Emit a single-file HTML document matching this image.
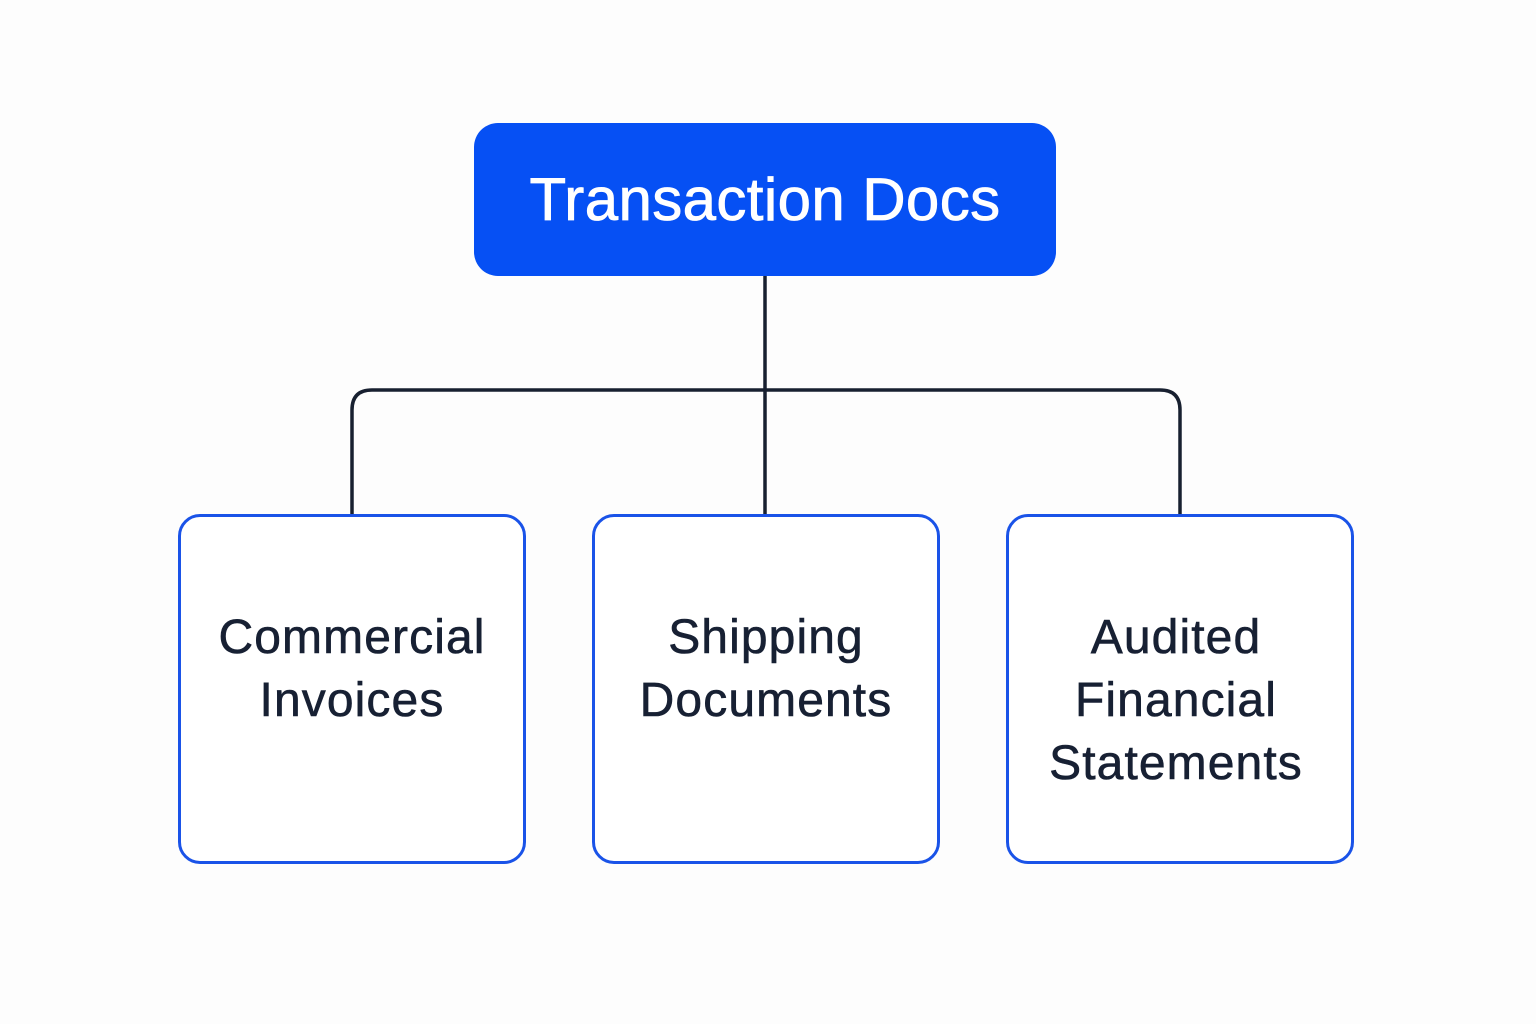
<!DOCTYPE html>
<html><head><style>
html,body{margin:0;padding:0;background:#fdfdfd;}
body{width:1536px;height:1024px;position:relative;overflow:hidden;font-family:"Liberation Sans",sans-serif;}
.top{position:absolute;left:474px;top:123px;width:582px;height:153px;background:#0650f4;border-radius:24px;color:#fff;font-size:60px;letter-spacing:0.4px;display:flex;align-items:center;justify-content:center;-webkit-text-stroke:0.8px #fff;}
.box{position:absolute;top:514px;width:342px;height:344px;border:3px solid #1a53e8;border-radius:22px;background:#fff;}
.t{position:absolute;top:606px;text-align:center;font-size:48px;letter-spacing:1.1px;line-height:63px;color:#172033;-webkit-text-stroke:0.6px #172033;}
</style></head><body>
<svg width="1536" height="1024" style="position:absolute;left:0;top:0">
<g fill="none" stroke="#182030" stroke-width="3.5">
<line x1="765" y1="276" x2="765" y2="516"/>
<path d="M352 516 V410 Q352 390 372 390 H1160 Q1180 390 1180 410 V516"/>
</g>
</svg>
<div class="top">Transaction Docs</div>
<div class="box" style="left:178px"></div>
<div class="box" style="left:592px"></div>
<div class="box" style="left:1006px"></div>
<div class="t" style="left:178px;width:348px">Commercial<br>Invoices</div>
<div class="t" style="left:592px;width:348px">Shipping<br>Documents</div>
<div class="t" style="left:1006px;width:340px">Audited<br>Financial<br>Statements</div>
</body></html>
